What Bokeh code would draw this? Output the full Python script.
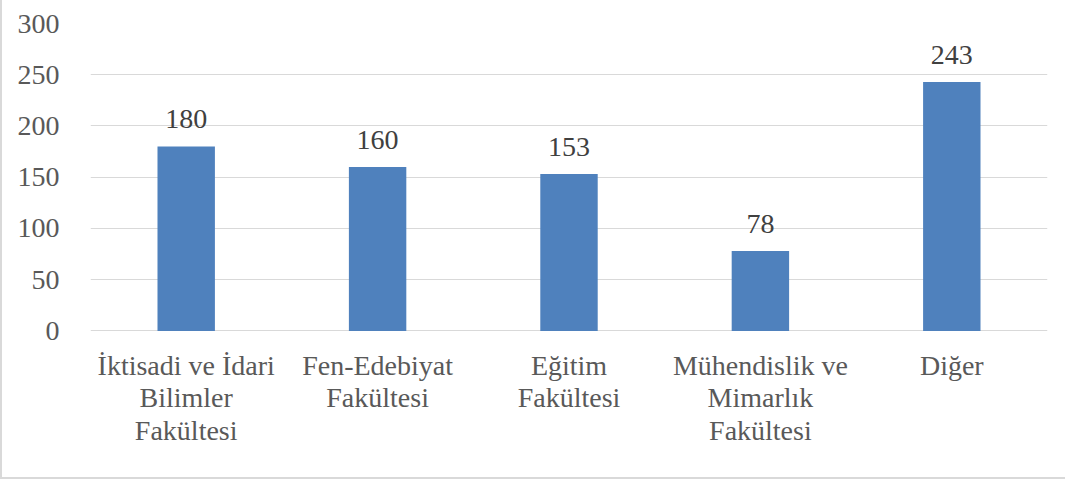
from bokeh.plotting import figure
from bokeh.models import ColumnDataSource, Range1d, FixedTicker
from bokeh.core.properties import value
from bokeh.embed import file_html
from bokeh.resources import INLINE

categories = ["İktisadi ve İdari Bilimler Fakültesi", "Fen-Edebiyat Fakültesi",
              "Eğitim Fakültesi", "Mühendislik ve Mimarlık Fakültesi", "Diğer"]
tick_labels = ["İktisadi ve İdari\nBilimler\nFakültesi", "Fen-Edebiyat\nFakültesi",
               "Eğitim\nFakültesi", "Mühendislik ve\nMimarlık\nFakültesi", "Diğer"]
counts = [180, 160, 153, 78, 243]
y_ticks = [0, 50, 100, 150, 200, 250, 300]
y_max = 300

FONT = "Liberation Serif"
FS = "28px"

W, H = 1065, 479
EDGE = 2  # css border width
TOP, BOTTOM = 23, 15
AXIS_PX = 306  # pixel height of 0..300 span
frame_h = H - EDGE - TOP - BOTTOM
y_min = -y_max * (frame_h - AXIS_PX) / AXIS_PX

src = ColumnDataSource(dict(cat=categories, val=counts, lab=[str(v) for v in counts],
                            tl=tick_labels, zero=[0] * len(categories)))

p = figure(x_range=categories, y_range=Range1d(y_min, y_max), width=W, height=H,
           output_backend="svg", toolbar_location=None,
           min_border_left=88, min_border_right=20, min_border_top=TOP, min_border_bottom=BOTTOM)
p.styles = {"border-left": "2px solid #d9d9d9", "border-bottom": "2px solid #d9d9d9",
            "box-sizing": "border-box"}
p.outline_line_color = None
p.background_fill_color = "white"
p.border_fill_color = "white"

p.vbar(x="cat", top="val", width=0.30, source=src, fill_color="#4f81bd", line_color=None)
p.text(x="cat", y="val", text="lab", source=src, text_align="center", text_baseline="alphabetic",
       y_offset=-27, text_font=value(FONT), text_font_size=FS, text_color="#404040")
p.text(x="cat", y="zero", text="tl", source=src, text_align="center", text_baseline="top",
       y_offset=19, text_font=value(FONT), text_font_size=FS, text_color="#595959",
       text_line_height=1.05)

p.xgrid.grid_line_color = None
p.ygrid.grid_line_color = "#d9d9d9"
p.ygrid.grid_line_width = 1.2
p.ygrid.ticker = FixedTicker(ticks=y_ticks)
p.yaxis.ticker = FixedTicker(ticks=y_ticks)
p.yaxis.axis_line_color = None
p.yaxis.major_tick_line_color = None
p.yaxis.minor_tick_line_color = None
p.yaxis.major_label_standoff = 25
p.yaxis.major_label_text_font = FONT
p.yaxis.major_label_text_font_size = FS
p.yaxis.major_label_text_color = "#595959"

p.xaxis.visible = False

open("out.html", "w").write(file_html(p, INLINE))
